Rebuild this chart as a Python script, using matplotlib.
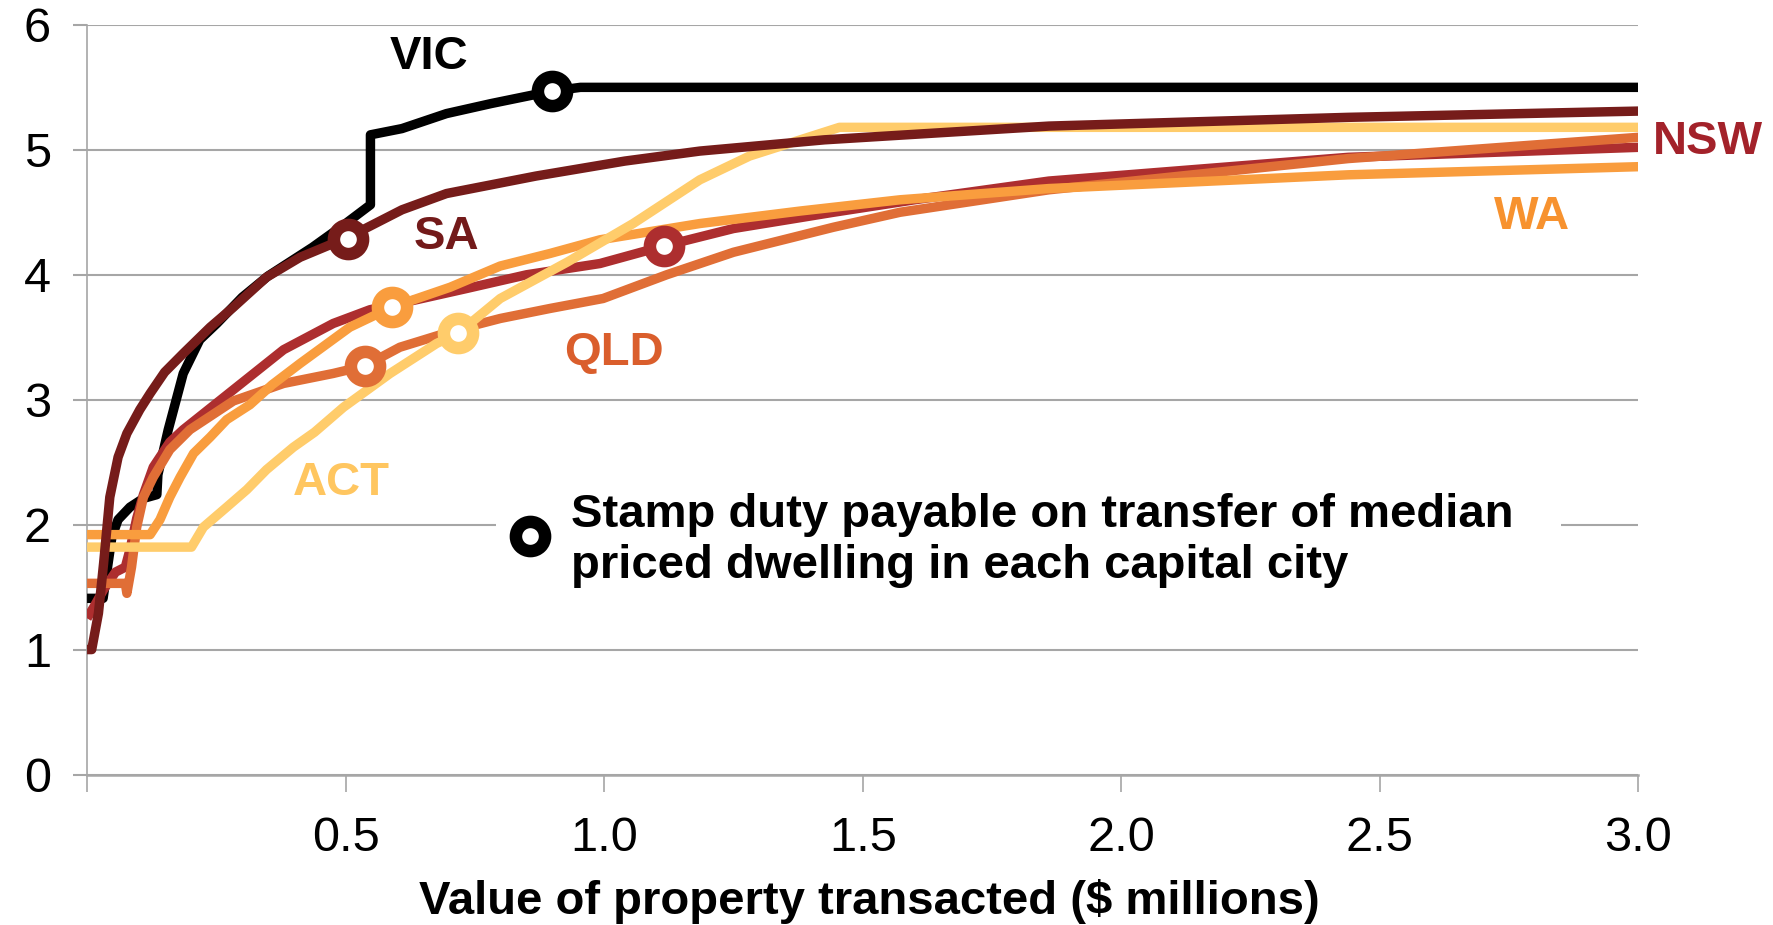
import matplotlib
matplotlib.use("Agg")
import matplotlib.pyplot as plt
from matplotlib.patches import Rectangle

plt.rcParams["font.family"] = ["Liberation Sans", "DejaVu Sans"]

# ── data (value in $m -> stamp duty, % of value) ──────────────
vic_x = [0, 0.031, 0.048, 0.060, 0.083, 0.109, 0.135, 0.137, 0.157, 0.186, 0.218,
         0.251, 0.300, 0.350, 0.436, 0.500, 0.548, 0.548, 0.609, 0.695, 0.781,
         0.899, 0.954, 3.0]
vic_y = [1.41, 1.41, 1.90, 2.04, 2.14, 2.21, 2.24, 2.40, 2.76, 3.21, 3.48,
         3.61, 3.82, 3.99, 4.22, 4.41, 4.56, 5.12, 5.17, 5.29, 5.37,
         5.47, 5.50, 5.50]

sa_x = [0, 0.009, 0.022, 0.032, 0.044, 0.060, 0.077, 0.102, 0.122, 0.150, 0.186,
        0.238, 0.283, 0.347, 0.412, 0.470, 0.505, 0.609, 0.695, 0.868, 1.040,
        1.185, 1.426, 1.860, 2.439, 3.0]
sa_y = [1.00, 1.00, 1.29, 1.69, 2.22, 2.54, 2.73, 2.92, 3.05, 3.22, 3.37,
        3.58, 3.74, 3.98, 4.14, 4.24, 4.30, 4.52, 4.65, 4.79, 4.91,
        4.99, 5.08, 5.19, 5.26, 5.31]

nsw_x = [0, 0.013, 0.032, 0.055, 0.074, 0.083, 0.096, 0.109, 0.128, 0.160, 0.186,
         0.283, 0.380, 0.476, 0.547, 0.637, 0.734, 0.850, 0.992, 1.115, 1.250,
         1.443, 1.600, 1.860, 2.439, 3.0]
nsw_y = [1.25, 1.34, 1.48, 1.62, 1.66, 1.80, 2.05, 2.24, 2.46, 2.66, 2.76,
         3.08, 3.40, 3.61, 3.72, 3.80, 3.89, 4.00, 4.09, 4.23, 4.37,
         4.50, 4.60, 4.75, 4.94, 5.02]

qld_x = [0, 0.074, 0.077, 0.086, 0.096, 0.109, 0.128, 0.160, 0.199, 0.283, 0.380,
         0.476, 0.537, 0.605, 0.715, 0.799, 0.895, 0.998, 1.121, 1.250, 1.443,
         1.572, 1.860, 2.439, 3.0]
qld_y = [1.53, 1.53, 1.45, 1.66, 1.98, 2.22, 2.38, 2.60, 2.76, 2.99, 3.13,
         3.21, 3.27, 3.42, 3.56, 3.65, 3.73, 3.81, 4.00, 4.18, 4.38,
         4.50, 4.68, 4.93, 5.10]

wa_x = [0, 0.122, 0.141, 0.160, 0.180, 0.206, 0.238, 0.270, 0.315, 0.358, 0.412,
        0.508, 0.589, 0.702, 0.799, 0.895, 0.992, 1.185, 1.379, 1.572, 1.860,
        2.439, 3.0]
wa_y = [1.92, 1.92, 2.04, 2.22, 2.38, 2.57, 2.70, 2.84, 2.96, 3.12, 3.29,
        3.58, 3.74, 3.90, 4.07, 4.17, 4.28, 4.41, 4.51, 4.60, 4.69,
        4.80, 4.865]

act_x = [0, 0.202, 0.225, 0.270, 0.309, 0.347, 0.399, 0.440, 0.496, 0.586, 0.676,
         0.717, 0.799, 0.928, 1.056, 1.185, 1.281, 1.455, 3.0]
act_y = [1.82, 1.82, 1.98, 2.14, 2.28, 2.44, 2.62, 2.74, 2.94, 3.21, 3.45,
         3.53, 3.81, 4.10, 4.41, 4.76, 4.95, 5.18, 5.18]

# median priced dwelling in each capital city
states = ["VIC", "NSW", "QLD", "WA", "ACT", "SA"]
median_x = [0.899, 1.115, 0.537, 0.589, 0.717, 0.505]
median_y = [5.47, 4.23, 3.27, 3.74, 3.53, 4.29]

COLORS = {
    "VIC": "#000000",
    "SA":  "#761C1A",
    "NSW": "#AD2E2F",
    "QLD": "#E06E36",
    "WA":  "#F99D3E",
    "ACT": "#FFCC6B",
}
LABEL_COLORS = {
    "VIC": "#000000",
    "SA":  "#731A1A",
    "NSW": "#A3222A",
    "QLD": "#DA5E2C",
    "WA":  "#F7922F",
    "ACT": "#FFC660",
}
# label anchor (data coords)
LABEL_POS = {
    "VIC": (0.662, 5.74),
    "SA":  (0.695, 4.30),
    "NSW": (3.135, 5.06),
    "WA":  (2.795, 4.46),
    "QLD": (1.018, 3.37),
    "ACT": (0.492, 2.33),
}
GRID = "#A6A6A6"

fig = plt.figure(figsize=(17.73, 9.25), dpi=100)
fig.patch.set_facecolor("white")
ax = fig.add_axes([0.0491, 0.1627, 0.875, 0.8104])

series = {
    "VIC": (vic_x, vic_y),
    "NSW": (nsw_x, nsw_y),
    "QLD": (qld_x, qld_y),
    "WA":  (wa_x, wa_y),
    "ACT": (act_x, act_y),
    "SA":  (sa_x, sa_y),
}
for z, (name, (xs, ys)) in enumerate(series.items()):
    ax.plot(xs, ys, color=COLORS[name], lw=6.8, solid_joinstyle="round",
            solid_capstyle="butt", zorder=3 + z * 0.1)

for name, mx, my in zip(states, median_x, median_y):
    ax.plot(mx, my, "o", ms=21, mfc="white", mec=COLORS[name], mew=9, zorder=5)

for name, (lx, ly) in LABEL_POS.items():
    ax.text(lx, ly, name, ha="center", va="center", fontsize=34,
            fontweight="bold", color=LABEL_COLORS[name], clip_on=False, zorder=6)

# annotation with white backing over the gridline
ax.add_patch(Rectangle((0.79, 1.45), 2.06, 0.85, facecolor="white",
                       edgecolor="none", zorder=1.5))
ax.plot(0.857, 1.91, "o", ms=21, mfc="white", mec="black", mew=9, zorder=5)
ax.text(0.936, 1.87, "Stamp duty payable on transfer of median\npriced dwelling in each capital city",
        ha="left", va="center", fontsize=34, fontweight="bold", color="black",
        linespacing=1.2, zorder=6)

ax.set_xlim(0, 3.0)
ax.set_ylim(0, 6)
ax.set_xticks([0, 0.5, 1.0, 1.5, 2.0, 2.5, 3.0])
ax.set_xticklabels(["", "0.5", "1.0", "1.5", "2.0", "2.5", "3.0"])
ax.set_yticks([0, 1, 2, 3, 4, 5, 6])

ax.set_axisbelow(True)
ax.yaxis.grid(True, color=GRID, lw=1.5)
ax.spines[["top", "right"]].set_visible(False)
ax.spines["left"].set_color(GRID)
ax.spines["left"].set_linewidth(1.2)
ax.spines["bottom"].set_color(GRID)
ax.spines["bottom"].set_linewidth(1.8)

ax.tick_params(axis="y", direction="out", length=10, width=1.5, color=GRID,
               pad=16, labelsize=35, labelcolor="black")
ax.tick_params(axis="x", direction="out", length=12, width=1.2, color=GRID,
               pad=18, labelsize=35, labelcolor="black")

ax.set_xlabel("Value of property transacted ($ millions)", fontsize=34,
              fontweight="bold", color="black")
ax.xaxis.set_label_coords(0.504, -0.169)
ax.xaxis.label.set_va("center")

fig.savefig("out.png", dpi=100, facecolor="white")
